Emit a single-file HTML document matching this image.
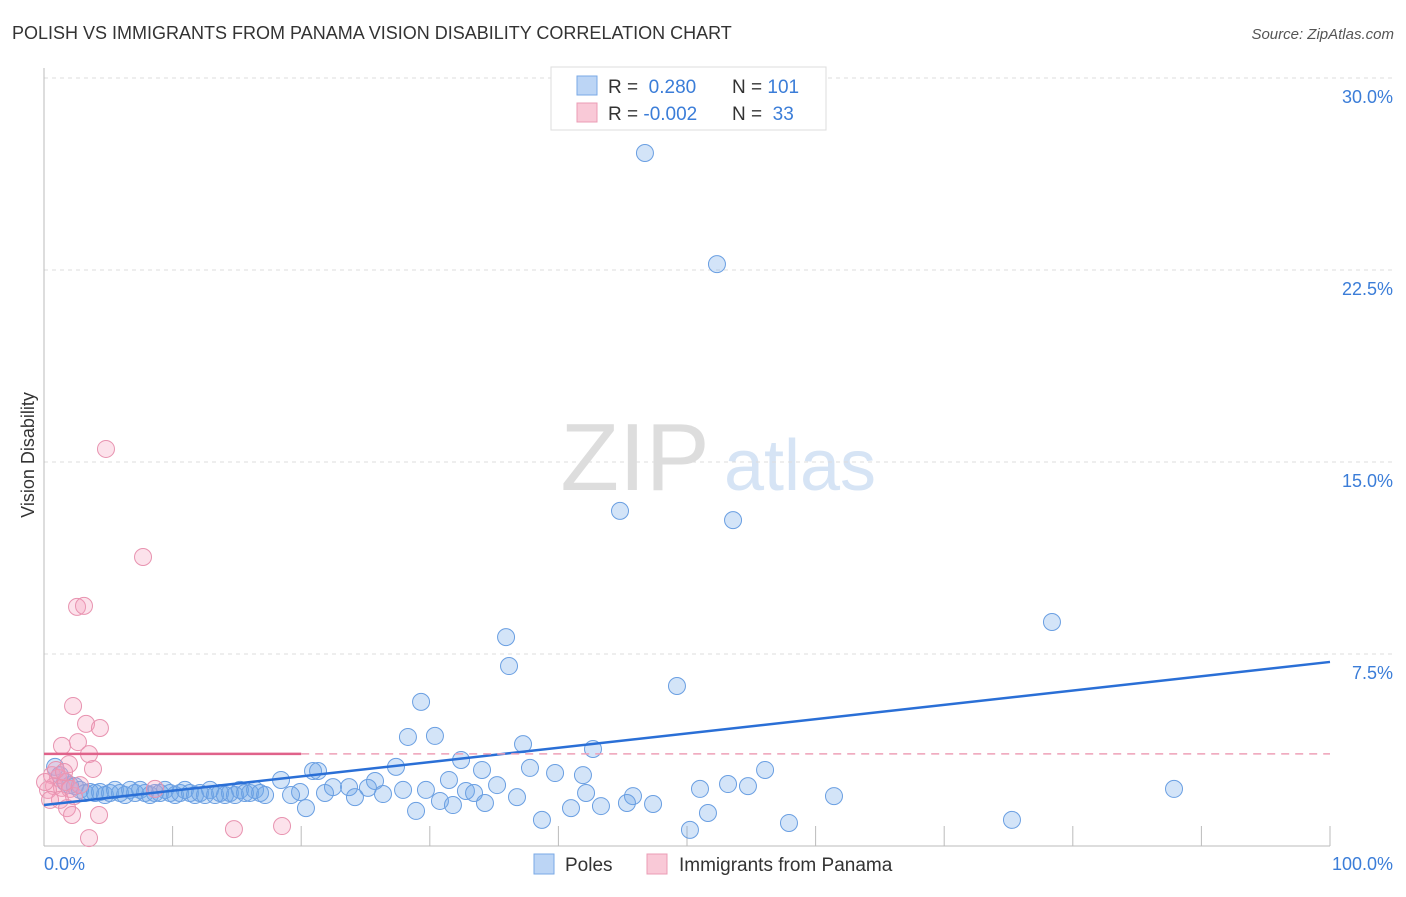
<!DOCTYPE html>
<html><head><meta charset="utf-8"><style>
body{margin:0;background:#fff;font-family:"Liberation Sans",sans-serif}
svg text{font-family:"Liberation Sans",sans-serif}
</style></head><body>
<svg id="c" width="1406" height="892" xmlns="http://www.w3.org/2000/svg">
<text x="12" y="39" font-size="18" fill="#333">POLISH VS IMMIGRANTS FROM PANAMA VISION DISABILITY CORRELATION CHART</text>
<text x="1394" y="39" font-size="15" fill="#555" font-style="italic" text-anchor="end">Source: ZipAtlas.com</text>
<text x="635" y="490" font-size="96" fill="#ddd" font-family="Liberation Serif" text-anchor="middle">ZIP</text>
<text x="800" y="490" font-size="72" fill="#d6e4f5" text-anchor="middle">atlas</text>
<g id="grid"></g><g id="axes"></g><g id="pts"></g><g id="lines"></g>
<text transform="translate(34,455) rotate(-90)" font-size="18" fill="#333" text-anchor="middle">Vision Disability</text>
<text x="44" y="870" font-size="18" fill="#3b7dd8">0.0%</text>
<text x="1393" y="870" font-size="18" fill="#3b7dd8" text-anchor="end">100.0%</text>
<g>
<rect x="551" y="67" width="275" height="63" fill="#fff" stroke="#ddd"/>
<rect x="577" y="76" width="20" height="19" fill="#bcd5f5" stroke="#7aa9e6"/>
<rect x="577" y="103" width="20" height="19" fill="#f9c9d7" stroke="#eb9cb5"/>
<text x="608" y="93" font-size="19" fill="#333">R = <tspan fill="#3b7dd8">&#160;0.280</tspan><tspan x="732">N = </tspan><tspan fill="#3b7dd8">101</tspan></text>
<text x="608" y="120" font-size="19" fill="#333">R = <tspan fill="#3b7dd8">-0.002</tspan><tspan x="732">N = </tspan><tspan fill="#3b7dd8">&#160;33</tspan></text>
</g>
<g>
<rect x="534" y="854" width="20" height="20" fill="#bcd5f5" stroke="#7aa9e6"/>
<text x="565" y="871" font-size="19" fill="#333">Poles</text>
<rect x="647" y="854" width="20" height="20" fill="#f9c9d7" stroke="#eb9cb5"/>
<text x="679" y="871" font-size="19" fill="#333">Immigrants from Panama</text>
</g>
</svg>
<script>
const yTicks=[7.5,15,22.5,30];
const yTickLabels=["7.5%","15.0%","22.5%","30.0%"];
const xTicks=[10,20,30,40,50,60,70,80,90,100];
const polesPx=[[645,153],[717,264],[620,511],[733,520],[1052,622],[506,637],[509,666],[677,686],[421,702],[408,737],[435,736],[461,760],[523,744],[593,749],[396,767],[281,780],[313,771],[318,771],[530,768],[555,773],[583,775],[765,770],[728,784],[748,786],[700,789],[482,770],[449,780],[497,785],[466,791],[474,793],[375,781],[349,787],[403,790],[426,790],[368,788],[333,787],[300,792],[325,793],[291,795],[355,797],[383,794],[440,801],[453,805],[485,803],[517,797],[586,793],[633,796],[627,803],[601,806],[653,804],[571,808],[834,796],[1174,789],[306,808],[416,811],[542,820],[708,813],[690,830],[789,823],[1012,820],[55,767],[60,775],[65,782],[70,785],[75,786],[80,790],[85,793],[90,792],[95,793],[100,792],[105,795],[110,793],[115,790],[120,793],[125,795],[130,790],[135,793],[140,790],[145,793],[150,795],[155,793],[160,793],[165,790],[170,793],[175,795],[180,793],[185,790],[190,793],[195,795],[200,793],[205,795],[210,790],[215,795],[220,793],[225,795],[230,793],[235,795],[240,790],[245,793],[250,793],[255,790],[260,793],[265,795]];
const panamaPx=[[106,449],[143,557],[77,607],[84,606],[73,706],[86,724],[100,728],[62,746],[78,742],[89,754],[69,764],[93,769],[52,775],[58,778],[54,786],[62,788],[66,782],[70,789],[48,790],[74,796],[60,800],[67,808],[99,815],[72,815],[89,838],[234,829],[282,826],[155,789],[56,770],[64,772],[50,800],[80,785],[45,782]];
// data values (percent) derived from reading the picture
const polesX=polesPx.map(p=>+((p[0]-44)/12.86).toFixed(2));
const polesY=polesPx.map(p=>+((846-p[1])/25.6).toFixed(2));
const panamaX=panamaPx.map(p=>+((p[0]-44)/12.86).toFixed(2));
const panamaY=panamaPx.map(p=>+((846-p[1])/25.6).toFixed(2));
const polesTrend=[1.6,7.19];
const panamaTrend=[3.6,3.6];
const X0=44,X1=1330,Y0=846,YT=78;
const sx=v=>X0+(X1-X0)*v/100;
const sy=v=>Y0-(Y0-YT)*v/30;
const NS="http://www.w3.org/2000/svg";
function mk(tag,attrs,parent){const e=document.createElementNS(NS,tag);for(const k in attrs)e.setAttribute(k,attrs[k]);document.getElementById(parent).appendChild(e);return e;}
yTicks.forEach((t,i)=>{
 const g=mk('line',{x1:X0,x2:1395,y1:sy(t),y2:sy(t),stroke:'#ddd','stroke-dasharray':'4,4'},'grid');
 
 
 const l=mk('text',{x:1393,y:sy(t)+25,'font-size':18,fill:'#3b7dd8','text-anchor':'end'},'grid');
 l.textContent=yTickLabels[i];
 
 
});
let a=mk('line',{x1:X0,x2:X0,y1:68,y2:Y0,stroke:'#bbb'},'axes');


a=mk('line',{x1:X0,x2:X1,y1:Y0,y2:Y0,stroke:'#bbb'},'axes');


xTicks.forEach(t=>{const k=mk('line',{x1:sx(t),x2:sx(t),y1:Y0-20,y2:Y0,stroke:'#bbb'},'axes');
 
 });
polesX.forEach((x,i)=>{const c=mk('circle',{cx:sx(x),cy:sy(polesY[i]),r:8.5,fill:'rgba(110,165,232,0.3)',stroke:'#6a9fe2','stroke-width':1},'pts');
 
 });
panamaX.forEach((x,i)=>{const c=mk('circle',{cx:sx(x),cy:sy(panamaY[i]),r:8.5,fill:'rgba(245,160,190,0.3)',stroke:'#e893b0','stroke-width':1},'pts');
 
 });
let t=mk('line',{x1:sx(0),y1:sy(polesTrend[0]),x2:sx(100),y2:sy(polesTrend[1]),stroke:'#2a6fd6','stroke-width':2.5},'lines');


t=mk('line',{x1:sx(0),y1:sy(panamaTrend[0]),x2:sx(20),y2:sy(panamaTrend[0]),stroke:'#e0628a','stroke-width':2.5},'lines');


t=mk('line',{x1:sx(20),y1:sy(panamaTrend[0]),x2:sx(100),y2:sy(panamaTrend[1]),stroke:'#eea0b8','stroke-width':1.5,'stroke-dasharray':'8,6'},'lines');


</script>
</body></html>
